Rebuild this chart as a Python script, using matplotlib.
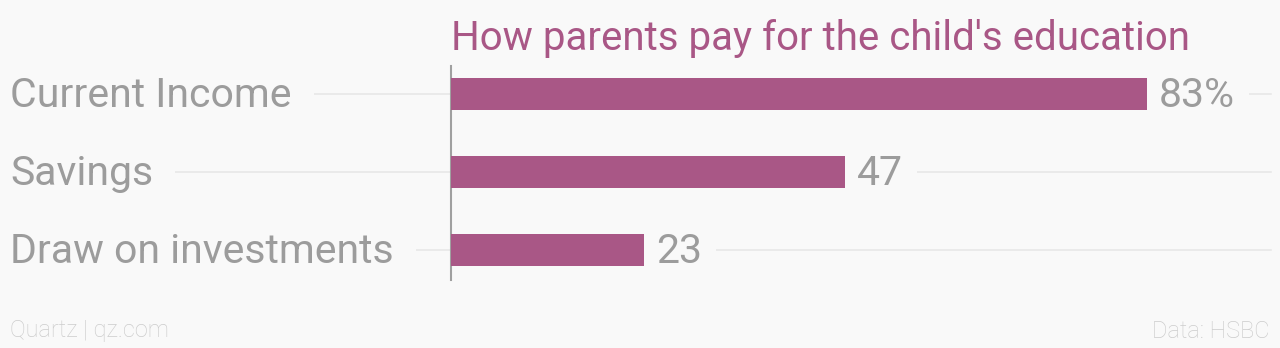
import matplotlib.pyplot as plt
from matplotlib import transforms

# Data
categories = ["Current Income", "Savings", "Draw on investments"]
values = [83, 47, 23]
value_labels = ["83%", "47", "23"]

title = "How parents pay for the child's education"
source_left = "Quartz | qz.com"
source_right = "Data: HSBC"

BG = "#f9f9f9"
BAR = "#a95786"
GREY = "#9c9c9c"
GRID = "#e8e8e8"

W, H = 1280, 348
plt.rcParams["font.family"] = ["Roboto", "DejaVu Sans"]

fig = plt.figure(figsize=(W / 100, H / 100), dpi=100, facecolor=BG)
ax = fig.add_axes([451 / W, 1 - 280 / H, (1271 - 451) / W, (280 - 66) / H])
ax.set_facecolor(BG)

ypos = list(range(len(categories)))
ax.barh(ypos, values, height=0.42, color=BAR, zorder=3)
ax.set_xlim(0, 97.8)
ax.set_ylim(2.385, -0.359)

for s in ["top", "right", "bottom"]:
    ax.spines[s].set_visible(False)
ax.spines["left"].set_color("#a0a0a0")
ax.spines["left"].set_linewidth(1.5)
ax.set_xticks([])
ax.set_yticks([])

# gridlines run from the label column across to the right edge
x0 = (10 - 451) / (1271 - 451)
for y in ypos:
    ax.axhline(y, xmin=x0, xmax=1, color=GRID, lw=1.2, zorder=0, clip_on=False)

lab_tr = transforms.blended_transform_factory(fig.transFigure, ax.transData)
lab_tr = transforms.offset_copy(lab_tr, fig=fig, y=-2, units="dots")
for y, cat in zip(ypos, categories):
    ax.text(10 / W, y, cat, transform=lab_tr, ha="left", va="center",
            fontsize=29.5, color=GREY, zorder=2,
            bbox=dict(facecolor=BG, edgecolor="none", pad=16))

px = 97.8 / (1271 - 451)
val_tr = transforms.offset_copy(ax.transData, fig=fig, y=-2, units="dots")
for y, v, lab in zip(ypos, values, value_labels):
    ax.text(v + 12 * px, y, lab, transform=val_tr, ha="left", va="center",
            fontsize=29.5, color=GREY, zorder=2,
            bbox=dict(facecolor=BG, edgecolor="none", pad=10))

fig.text(451 / W, 1 - 38 / H, title, ha="left", va="center",
         fontsize=29, color=BAR)
fig.text(10 / W, 1 - 331 / H, source_left, ha="left", va="center",
         fontsize=17, fontweight="light", color="#cccccc")
fig.text(1270 / W, 1 - 331 / H, source_right, ha="right", va="center",
         fontsize=17, fontweight="light", color="#cccccc")

fig.savefig("out.png", dpi=100, facecolor=BG)
